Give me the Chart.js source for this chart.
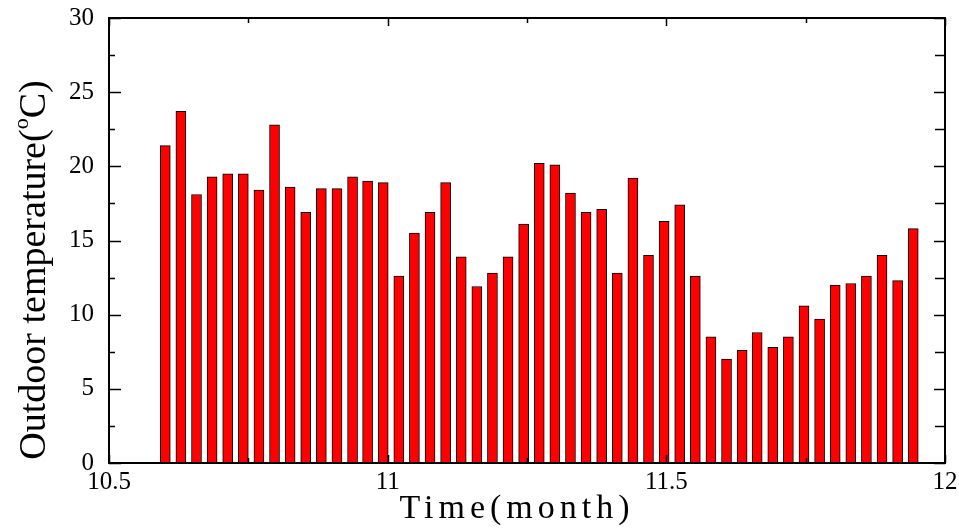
<!DOCTYPE html>
<html>
<head>
<meta charset="utf-8">
<script src="https://cdn.jsdelivr.net/npm/chart.js@4.4.1/dist/chart.umd.min.js"></script>
<style>
  html, body { margin: 0; padding: 0; background: #fff; }
  #wrap { width: 959px; height: 531px; position: relative; }
</style>
</head>
<body>
<div id="wrap"><canvas id="c" width="959" height="531"></canvas></div>
<script>
// Time (month) of each bar
const timeMonths = [
  10.601, 10.629, 10.657, 10.685, 10.713, 10.741, 10.769, 10.797, 10.825, 10.853,
  10.881, 10.909, 10.937, 10.964, 10.992, 11.020, 11.048, 11.076, 11.104, 11.132,
  11.160, 11.188, 11.216, 11.244, 11.272, 11.300, 11.328, 11.356, 11.384, 11.412,
  11.440, 11.468, 11.496, 11.524, 11.552, 11.580, 11.608, 11.636, 11.663, 11.691,
  11.719, 11.747, 11.775, 11.803, 11.831, 11.859, 11.887, 11.915, 11.943
];
// Outdoor temperature (°C)
const temperatures = [
  21.4, 23.7, 18.1, 19.3, 19.5, 19.5, 18.4, 22.8, 18.6, 16.9,
  18.5, 18.5, 19.3, 19.0, 18.9, 12.6, 15.5, 16.9, 18.9, 13.9,
  11.9, 12.8, 13.9, 16.1, 20.2, 20.1, 18.2, 16.9, 17.1, 12.8,
  19.2, 14.0, 16.3, 17.4, 12.6, 8.5, 7.0, 7.6, 8.8, 7.8,
  8.5, 10.6, 9.7, 12.0, 12.1, 12.6, 14.0, 12.3, 15.8
];
const xTickLabels = ['10.5', '11', '11.5', '12'];
const yTickLabels = ['0', '5', '10', '15', '20', '25', '30'];
const xMinorTicks = [10.75, 11.25, 11.75];
const yMinorTicks = [2.5, 7.5, 12.5, 17.5, 22.5, 27.5];

const xTitle = 'Time(month)';
const yTitleMain = 'Outdoor temperature(';
const yTitleSup = 'o';
const yTitleEnd = 'C)';

const SERIF = "'Liberation Serif', 'Times New Roman', serif";

const framePlugin = {
  id: 'frame',
  afterDraw(chart) {
    const ctx = chart.ctx;
    const a = chart.chartArea;
    const xs = chart.scales.x, ys = chart.scales.y;
    ctx.save();
    ctx.strokeStyle = '#000';
    ctx.lineWidth = 2;
    ctx.strokeRect(a.left, a.top, a.right - a.left, a.bottom - a.top);
    ctx.lineWidth = 1.5;
    ctx.beginPath();
    xTickLabels.forEach(l => {
      const px = Math.round(xs.getPixelForValue(parseFloat(l))) + 0.5;
      ctx.moveTo(px, a.bottom); ctx.lineTo(px, a.bottom - 8);
      ctx.moveTo(px, a.top); ctx.lineTo(px, a.top + 8);
    });
    xMinorTicks.forEach(v => {
      const px = Math.round(xs.getPixelForValue(v)) + 0.5;
      ctx.moveTo(px, a.bottom); ctx.lineTo(px, a.bottom - 5);
      ctx.moveTo(px, a.top); ctx.lineTo(px, a.top + 5);
    });
    yTickLabels.forEach(l => {
      const py = Math.round(ys.getPixelForValue(parseFloat(l))) + 0.5;
      ctx.moveTo(a.left, py); ctx.lineTo(a.left + 12, py);
      ctx.moveTo(a.right, py); ctx.lineTo(a.right - 11, py);
    });
    yMinorTicks.forEach(v => {
      const py = Math.round(ys.getPixelForValue(v)) + 0.5;
      ctx.moveTo(a.left, py); ctx.lineTo(a.left + 6, py);
      ctx.moveTo(a.right, py); ctx.lineTo(a.right - 10, py);
    });
    ctx.stroke();

    // X title
    ctx.fillStyle = '#000';
    ctx.font = '34px ' + SERIF;
    ctx.textAlign = 'center';
    ctx.textBaseline = 'alphabetic';
    try { ctx.letterSpacing = '5px'; } catch (e) {}
    ctx.fillText(xTitle, 517, 518);
    try { ctx.letterSpacing = '0px'; } catch (e) {}

    // Y title, rotated, with superscript o
    const mainFont = '38px ' + SERIF;
    const supFont = '22px ' + SERIF;
    ctx.font = mainFont;
    const w1 = ctx.measureText(yTitleMain).width;
    const w3 = ctx.measureText(yTitleEnd).width;
    ctx.font = supFont;
    const w2 = ctx.measureText(yTitleSup).width;
    const total = w1 + w2 + w3;
    ctx.translate(45, 270);
    ctx.rotate(-Math.PI / 2);
    ctx.textAlign = 'left';
    const x0 = -total / 2;
    ctx.font = mainFont;
    ctx.fillText(yTitleMain, x0, 0);
    ctx.font = supFont;
    ctx.fillText(yTitleSup, x0 + w1, -17);
    ctx.font = mainFont;
    ctx.fillText(yTitleEnd, x0 + w1 + w2, 0);
    ctx.restore();
  }
};

new Chart(document.getElementById('c'), {
  type: 'bar',
  data: {
    datasets: [{
      data: timeMonths.map((t, i) => ({ x: t, y: temperatures[i] })),
      backgroundColor: '#ff0000',
      borderColor: '#000000',
      borderWidth: 1,
      barThickness: 10,
      borderSkipped: 'bottom'
    }]
  },
  options: {
    responsive: false,
    animation: false,
    events: [],
    layout: { padding: { top: 18, right: 14, left: 0, bottom: 0 } },
    plugins: { legend: { display: false }, tooltip: { enabled: false } },
    scales: {
      x: {
        type: 'linear',
        min: 10.5, max: 12,
        offset: false,
        grid: { display: false, drawTicks: false },
        border: { display: false },
        afterBuildTicks(scale) {
          scale.ticks = xTickLabels.map(l => ({ value: parseFloat(l) }));
        },
        ticks: {
          color: '#000',
          font: { family: SERIF, size: 25 },
          padding: 4,
          maxRotation: 0,
          autoSkip: false,
          callback: (v) => xTickLabels.find(l => parseFloat(l) === v)
        },
        afterFit(scale) {
          scale.height = 68;
          scale.paddingLeft = 0; scale.paddingRight = 0;
        }
      },
      y: {
        min: 0, max: 30,
        grid: { display: false, drawTicks: false },
        border: { display: false },
        afterBuildTicks(scale) {
          scale.ticks = yTickLabels.map(l => ({ value: parseFloat(l) }));
        },
        ticks: {
          color: '#000',
          font: { family: SERIF, size: 25 },
          padding: 15,
          callback: (v) => yTickLabels.find(l => parseFloat(l) === v)
        },
        afterFit(scale) {
          scale.width = 109;
          scale.paddingTop = 0; scale.paddingBottom = 0;
        }
      }
    }
  },
  plugins: [framePlugin]
});
</script>
</body>
</html>
